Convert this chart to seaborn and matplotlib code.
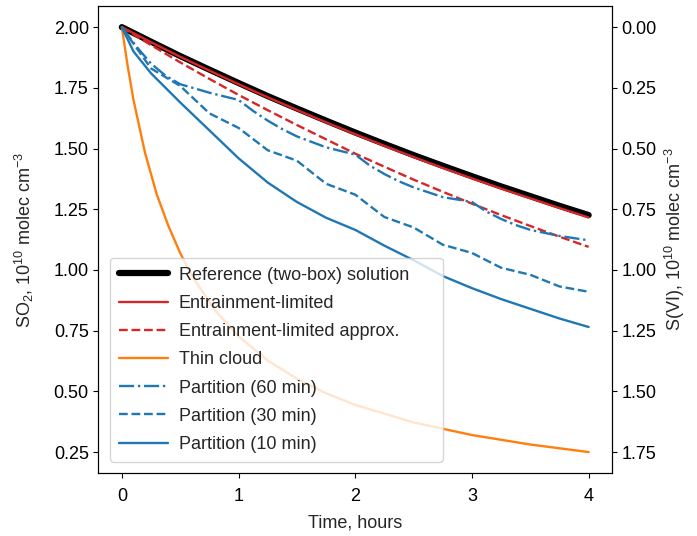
import seaborn as sns
import matplotlib.pyplot as plt
import pandas as pd
import numpy as np

# time grids (hours)
t_quarter = [0, 0.25, 0.5, 0.75, 1.0, 1.25, 1.5, 1.75, 2.0, 2.25, 2.5, 2.75, 3.0, 3.25, 3.5, 3.75, 4.0]

# SO2, 1e10 molec cm-3
reference = [2.000, 1.940, 1.881, 1.825, 1.770, 1.716, 1.665, 1.615, 1.566,
             1.519, 1.473, 1.429, 1.386, 1.344, 1.304, 1.264, 1.226]
entrain = [2.000, 1.938, 1.878, 1.821, 1.765, 1.711, 1.659, 1.608, 1.559,
           1.511, 1.465, 1.420, 1.377, 1.335, 1.295, 1.255, 1.216]
entrain_approx = [2.000, 1.926, 1.855, 1.787, 1.721, 1.658, 1.597, 1.538, 1.479,
                  1.425, 1.372, 1.322, 1.273, 1.226, 1.181, 1.137, 1.095]

t_thin = [0, 0.05, 0.1, 0.2, 0.3, 0.4, 0.5, 0.6, 0.8, 1.0, 1.25, 1.5, 1.75, 2.0,
          2.5, 3.0, 3.5, 4.0]
thin_cloud = [2.00, 1.84, 1.70, 1.48, 1.31, 1.18, 1.07, 0.976, 0.833, 0.727, 0.627,
              0.552, 0.492, 0.444, 0.372, 0.32, 0.281, 0.25]

t_p60 = [0, 0.125, 0.25, 0.375, 0.5, 0.75, 1.0, 1.125, 1.25, 1.375, 1.5, 1.75, 2.0,
         2.125, 2.25, 2.375, 2.5, 2.75, 3.0, 3.125, 3.25, 3.375, 3.5, 3.75, 4.0]
part_60 = [2.0, 1.92, 1.85, 1.80, 1.765, 1.73, 1.70,
           1.655, 1.615, 1.58, 1.55, 1.505, 1.475,
           1.43, 1.395, 1.365, 1.34, 1.30, 1.28,
           1.24, 1.21, 1.185, 1.165, 1.14, 1.122]

part_30 = [2.0, 1.830, 1.758, 1.645, 1.585, 1.493, 1.45, 1.355, 1.31,
           1.218, 1.175, 1.104, 1.07, 1.009, 0.98, 0.932, 0.91]

t_p10 = [0, 0.1, 0.25, 0.5, 0.75, 1.0, 1.25, 1.5, 1.75, 2.0, 2.25, 2.5, 2.75,
         3.0, 3.25, 3.5, 3.75, 4.0]
part_10 = [2.0, 1.90, 1.81, 1.69, 1.575, 1.46, 1.36, 1.28, 1.215, 1.165,
           1.10, 1.04, 0.975, 0.925, 0.88, 0.84, 0.80, 0.765]


def create_visualization():
    sns.set_style("ticks")
    plt.rcParams['font.family'] = ['Liberation Sans', 'DejaVu Sans']
    plt.rcParams['mathtext.fontset'] = 'custom'
    plt.rcParams['mathtext.rm'] = 'Liberation Sans'
    plt.rcParams['mathtext.it'] = 'Liberation Sans:italic'
    plt.rcParams['axes.edgecolor'] = 'black'
    plt.rcParams['xtick.color'] = 'black'
    plt.rcParams['ytick.color'] = 'black'

    fig, ax = plt.subplots(figsize=(6.97, 5.36), dpi=100)
    fig.subplots_adjust(left=0.1413, right=0.878, bottom=0.117, top=0.989)

    lw = 1.7
    sns.lineplot(x=t_quarter, y=reference, ax=ax, color='black', lw=4.5,
                 label='Reference (two-box) solution')
    sns.lineplot(x=t_quarter, y=entrain, ax=ax, color='tab:red', lw=lw,
                 label='Entrainment-limited')
    sns.lineplot(x=t_quarter, y=entrain_approx, ax=ax, color='tab:red', lw=lw,
                 linestyle='--', label='Entrainment-limited approx.')
    sns.lineplot(x=t_thin, y=thin_cloud, ax=ax, color='tab:orange', lw=lw,
                 label='Thin cloud')
    sns.lineplot(x=t_p60, y=part_60, ax=ax, color='tab:blue', lw=lw,
                 linestyle='-.', label='Partition (60 min)')
    sns.lineplot(x=t_quarter, y=part_30, ax=ax, color='tab:blue', lw=lw,
                 linestyle='--', label='Partition (30 min)')
    sns.lineplot(x=t_p10, y=part_10, ax=ax, color='tab:blue', lw=lw,
                 label='Partition (10 min)')

    fs = 13
    ax.set_xlabel('Time, hours', fontsize=fs, labelpad=7)
    ax.set_ylabel('SO$_2$, 10$^{10}$ molec cm$^{-3}$', fontsize=fs, labelpad=13)
    ax.set_xticks([0, 1, 2, 3, 4])
    ax.set_yticks([0.25, 0.5, 0.75, 1.0, 1.25, 1.5, 1.75, 2.0])
    ax.tick_params(labelsize=fs)
    ax.tick_params(axis='x', pad=7)
    ax.legend(loc='lower left', bbox_to_anchor=(0.0224, 0.0242, 0.6485, 0.4),
              mode='expand', borderaxespad=0, fontsize=fs, handlelength=2.7,
              handletextpad=0.6, labelspacing=0.62, borderpad=0.5)

    # right axis: S(VI) = 2 - SO2
    ax2 = ax.twinx()
    y0, y1 = ax.get_ylim()
    ax2.set_ylim(2 - y0, 2 - y1)
    ax2.set_yticks([0.0, 0.25, 0.5, 0.75, 1.0, 1.25, 1.5, 1.75])
    ax2.tick_params(labelsize=fs)
    ax2.set_ylabel('S(VI), 10$^{10}$ molec cm$^{-3}$', fontsize=fs)

    plt.savefig('out.png', dpi=100)


if __name__ == "__main__":
    create_visualization()
